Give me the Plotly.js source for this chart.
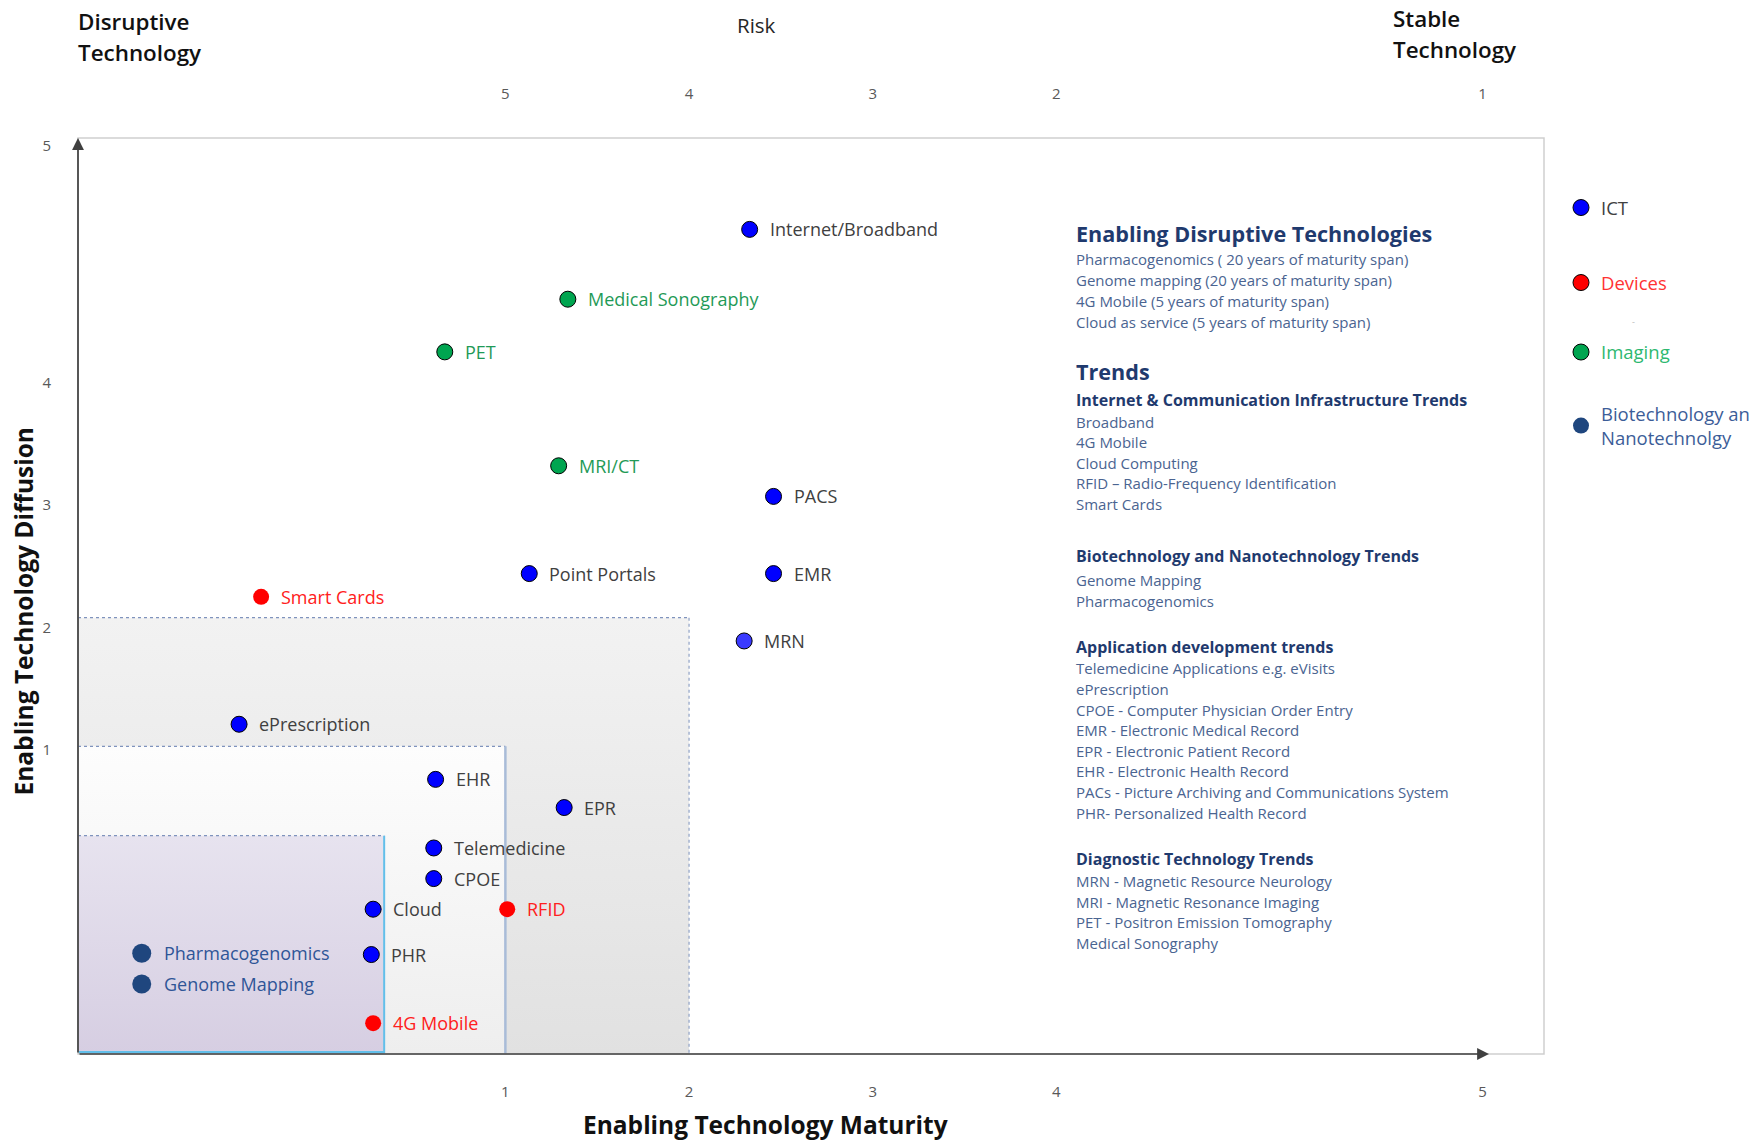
<!DOCTYPE html>
<html>
<head>
<meta charset="utf-8">
<script src="https://cdn.plot.ly/plotly-3.0.1.min.js"></script>
<style>
  html, body { margin: 0; padding: 0; background: #ffffff; }
  #chart { width: 1758px; height: 1141px; }
</style>
</head>
<body>
<div id="chart"></div>
<script>
// ---------------- DATA ----------------
// Enabling Technology Maturity (x) and Enabling Technology Diffusion (y), in axis units
const ictNames      = ['Internet/Broadband', 'PACS', 'Point Portals', 'EMR', 'MRN', 'ePrescription', 'EHR', 'EPR', 'Telemedicine', 'CPOE', 'Cloud', 'PHR'];
const ictMaturity   = [2.33, 2.46, 1.13, 2.46, 2.30, -0.45, 0.62, 1.32, 0.61, 0.61, 0.28, 0.27];
const ictDiffusion  = [5.25, 3.07, 2.44, 2.44, 1.89, 1.21, 0.76, 0.53, 0.20, -0.05, -0.30, -0.67];

const deviceNames     = ['Smart Cards', 'RFID', '4G Mobile'];
const deviceMaturity  = [-0.33, 1.01, 0.28];
const deviceDiffusion = [2.25, -0.30, -1.23];

const imagingNames     = ['Medical Sonography', 'PET', 'MRI/CT'];
const imagingMaturity  = [1.34, 0.67, 1.29];
const imagingDiffusion = [4.68, 4.25, 3.32];

const bioNames     = ['Pharmacogenomics', 'Genome Mapping'];
const bioMaturity  = [-0.98, -0.98];
const bioDiffusion = [-0.66, -0.91];

// shaded zones (upper bounds of maturity / diffusion)
const zoneMaturityMax  = [2.0, 1.0, 0.34];
const zoneDiffusionMax = [2.08, 1.03, 0.30];

// tick labels
const maturityTickVals  = [1, 2, 3, 4, 6.32];
const maturityTickText  = ['1', '2', '3', '4', '5'];
const riskTickText      = ['5', '4', '3', '2', '1'];
const diffusionTickVals = [1, 2, 3, 4, 5.93];
const diffusionTickText = ['1', '2', '3', '4', '5'];

// legend (as shown in the reference)
const legendNames = ['ICT', 'Devices', 'Imaging', 'Biotechnology an<br>Nanotechnolgy'];

// side text block
const disruptiveLines = [
  'Pharmacogenomics ( 20 years of maturity span)',
  'Genome mapping (20 years of maturity span)',
  '4G Mobile (5 years of maturity span)',
  'Cloud as service (5 years of maturity span)'
];
const ictTrendLines = ['Broadband', '4G Mobile', 'Cloud Computing', 'RFID \u2013 Radio-Frequency Identification', 'Smart Cards'];
const bioTrendLines = ['Genome Mapping', 'Pharmacogenomics'];
const appTrendLines = [
  'Telemedicine Applications e.g. eVisits',
  'ePrescription',
  'CPOE - Computer Physician Order Entry',
  'EMR - Electronic Medical Record',
  'EPR - Electronic Patient Record',
  'EHR - Electronic Health Record',
  'PACs - Picture Archiving and Communications System',
  'PHR- Personalized Health Record'
];
const diagTrendLines = [
  'MRN - Magnetic Resource Neurology',
  'MRI - Magnetic Resonance Imaging',
  'PET - Positron Emission Tomography',
  'Medical Sonography'
];

// ---------------- LAYOUT HELPERS ----------------
const W = 1758, H = 1141;
const M = { l: 78, r: 214, t: 138, b: 87 };
const PW = W - M.l - M.r, PH = H - M.t - M.b;
const pxX = x => (x - M.l) / PW;
const pxY = y => (H - M.b - y) / PH;
const xr = [-1.327, 6.655];
const yr = [-1.482, 5.996];

const FONT = 'Open Sans, Noto Sans, DejaVu Sans, sans-serif';
const traces = [];

// zones
const zoneStyles = [
  { c0: '#e1e1e1', c1: '#f2f2f2' },
  { c0: '#eeeeee', c1: '#fdfdfd' },
  { c0: '#d6cee2', c1: '#e7e3ef' }
];
zoneMaturityMax.forEach((xm, i) => {
  const ym = zoneDiffusionMax[i];
  traces.push({
    type: 'scatter', mode: 'lines',
    x: [xr[0], xm, xm, xr[0], xr[0]],
    y: [yr[0], yr[0], ym, ym, yr[0]],
    fill: 'toself',
    fillgradient: { type: 'vertical', colorscale: [[0, zoneStyles[i].c0], [1, zoneStyles[i].c1]] },
    line: { width: 0 },
    hoverinfo: 'skip', showlegend: false
  });
});
// zone borders
zoneMaturityMax.forEach((xm, i) => {
  const ym = zoneDiffusionMax[i];
  traces.push({
    type: 'scatter', mode: 'lines', x: [xr[0], xm], y: [ym, ym],
    line: { color: '#7f93bd', width: 1.2, dash: 'dot' }, hoverinfo: 'skip', showlegend: false
  });
  const rightStyle = [
    { color: '#8fa2c6', width: 1.2, dash: 'dot' },
    { color: '#a9bcd8', width: 2.5, dash: 'solid' },
    { color: '#62bfea', width: 2, dash: 'solid' }
  ][i];
  traces.push({
    type: 'scatter', mode: 'lines', x: [xm, xm], y: [ym, yr[0]],
    line: rightStyle, hoverinfo: 'skip', showlegend: false
  });
});
traces.push({
  type: 'scatter', mode: 'lines', x: [xr[0], zoneMaturityMax[2]], y: [yr[0] + 0.012, yr[0] + 0.012],
  line: { color: '#62bfea', width: 3 }, hoverinfo: 'skip', showlegend: false
});

// points
const groups = [
  { names: ictNames, x: ictMaturity, y: ictDiffusion,
    color: ictNames.map(n => n === 'MRN' ? '#3a3aff' : '#0000ff'),
    size: 16, line: { color: '#000000', width: 1 }, text: '#404040' },
  { names: deviceNames, x: deviceMaturity, y: deviceDiffusion,
    color: '#ff0000', size: 16, line: { width: 0 }, text: '#ff2020' },
  { names: imagingNames, x: imagingMaturity, y: imagingDiffusion,
    color: '#00a550', size: 16, line: { color: '#000000', width: 1 }, text: '#1f9a57' },
  { names: bioNames, x: bioMaturity, y: bioDiffusion,
    color: '#1f467e', size: 19, line: { width: 0 }, text: '#2f5597' }
];
const annotations = [];
groups.forEach(g => {
  traces.push({
    type: 'scatter', mode: 'markers', x: g.x, y: g.y, text: g.names,
    marker: { color: g.color, size: g.size, line: g.line },
    hoverinfo: 'text', showlegend: false
  });
  g.names.forEach((n, i) => {
    annotations.push({
      xref: 'x', yref: 'y', x: g.x[i], y: g.y[i], text: n, showarrow: false,
      xanchor: 'left', yanchor: 'middle', xshift: g.size === 19 ? 20 : 18,
      font: { family: FONT, size: 18, color: g.text }
    });
  });
});

// legend-only traces, one legend box per item
const legendStyles = [
  { color: '#0000ff', line: { color: '#000', width: 1 }, text: '#404040' },
  { color: '#ff0000', line: { color: '#000', width: 1 }, text: '#ff3333' },
  { color: '#00a550', line: { color: '#000', width: 1 }, text: '#2db870' },
  { color: '#1f467e', line: { width: 0 }, text: '#3c5d98' }
];
const legendIds = ['legend', 'legend2', 'legend3', 'legend4'];
const legendTops = [189, 264, 333.5, 395];
legendNames.forEach((n, i) => {
  traces.push({
    type: 'scatter', mode: 'markers', x: [null], y: [null],
    name: '<span style="color:' + legendStyles[i].text + '">' + n + '</span>',
    legend: legendIds[i],
    marker: { color: legendStyles[i].color, size: 16, line: legendStyles[i].line },
    hoverinfo: 'skip'
  });
});
// top (risk) axis carrier
traces.push({ type: 'scatter', mode: 'markers', x: [null], y: [null], xaxis: 'x2', yaxis: 'y', showlegend: false, hoverinfo: 'skip' });

// axis arrows
annotations.push({
  xref: 'paper', yref: 'paper', x: 0, y: 1, ax: 0, ay: PH, axref: 'pixel', ayref: 'pixel',
  text: '', showarrow: true, arrowhead: 2, arrowsize: 1.4, arrowwidth: 1.7, arrowcolor: '#404040', standoff: 0
});
annotations.push({
  xref: 'paper', yref: 'paper', x: pxX(1489), y: 0, ax: -(1489 - M.l), ay: 0,
  text: '', showarrow: true, arrowhead: 2, arrowsize: 1.4, arrowwidth: 1.7, arrowcolor: '#404040', standoff: 0
});

// titles and corner labels
function paperText(text, x, y, opts) {
  annotations.push(Object.assign({
    xref: 'paper', yref: 'paper', x: pxX(x), y: pxY(y), text: text, showarrow: false,
    xanchor: 'left', yanchor: 'middle'
  }, opts));
}
const cornerFont = { family: FONT, size: 22.4, weight: 600, color: '#111111' };
paperText('Disruptive', 75.5, 21, { font: cornerFont });
paperText('Technology', 75.5, 52.5, { font: cornerFont });
paperText('Stable', 1390.5, 18.5, { font: cornerFont });
paperText('Technology', 1390.5, 49.5, { font: cornerFont });
paperText('Risk', 756, 25, { xanchor: 'center', font: { family: FONT, size: 20.5, color: '#262626' } });
paperText('Enabling Technology Maturity', 765, 1124.5, { xanchor: 'center', font: { family: FONT, size: 24.5, weight: 700, color: '#111111' } });
paperText('Enabling Technology Diffusion', 22.5, 612, { xanchor: 'center', textangle: -90, font: { family: FONT, size: 24.5, weight: 700, color: '#111111' } });
paperText('-', 1633, 321, { xanchor: 'center', font: { family: FONT, size: 9, color: '#bbbbbb' } });

// side text block
const H1 = { family: FONT, size: 21.6, weight: 700, color: '#1f3a6e' };
const H2 = { family: FONT, size: 16, weight: 700, color: '#1f3a6e' };
const BODY = { family: FONT, size: 15, color: '#4a6491' };
const TX = 1073.5;
let ty = 233;
paperText('Enabling Disruptive Technologies', TX, ty, { font: H1 });
ty += 26;
disruptiveLines.forEach((t, i) => { paperText(t, TX, ty, { font: BODY }); if (i < disruptiveLines.length - 1) ty += 21.1; });
ty += 49.5;
paperText('Trends', TX, ty, { font: H1 });
ty += 28;
const sections = [
  ['Internet &amp; Communication Infrastructure Trends', ictTrendLines, 0, 21.8],
  ['Biotechnology and Nanotechnology Trends', bioTrendLines, 52.4, 23.6],
  ['Application development trends', appTrendLines, 46.2, 21.5],
  ['Diagnostic Technology Trends', diagTrendLines, 46.2, 22.4]
];
sections.forEach(([head, lines, gap, headToBody]) => {
  ty += gap;
  paperText(head, TX, ty, { font: H2 });
  ty += headToBody;
  lines.forEach((t, i) => { paperText(t, TX, ty, { font: BODY }); if (i < lines.length - 1) ty += 20.6; });
});

const tickFont = { family: FONT, size: 15, color: '#595959' };
const legendFont = { family: FONT, size: 18.5, color: '#404040' };
const layout = {
  width: W, height: H,
  margin: Object.assign({ autoexpand: false, pad: 0 }, M),
  paper_bgcolor: '#ffffff', plot_bgcolor: '#ffffff',
  font: { family: FONT },
  showlegend: true,
  xaxis: {
    range: xr, tickvals: maturityTickVals, ticktext: maturityTickText,
    showgrid: false, zeroline: false, showline: false, ticks: '', ticklabelstandoff: 27,
    tickfont: tickFont, fixedrange: true
  },
  xaxis2: {
    range: xr, tickvals: maturityTickVals, ticktext: riskTickText, overlaying: 'x', side: 'top', anchor: 'y',
    showgrid: false, zeroline: false, showline: false, ticks: '', ticklabelstandoff: 35,
    tickfont: tickFont, fixedrange: true
  },
  yaxis: {
    range: yr, tickvals: diffusionTickVals, ticktext: diffusionTickText,
    showgrid: false, zeroline: false, showline: false, ticks: '', ticklabelstandoff: 26,
    tickfont: tickFont, fixedrange: true
  },
  shapes: [{
    type: 'rect', xref: 'paper', yref: 'paper', x0: 0, x1: 1, y0: 0, y1: 1,
    line: { color: '#cfcfcf', width: 1.5 }, fillcolor: 'rgba(0,0,0,0)', layer: 'above'
  }],
  annotations: annotations
};
legendIds.forEach((id, i) => {
  layout[id] = {
    x: pxX(1561), y: pxY(legendTops[i]), xanchor: 'left', yanchor: 'top',
    bgcolor: 'rgba(0,0,0,0)', font: legendFont, itemsizing: 'trace', valign: 'middle'
  };
});

Plotly.newPlot('chart', traces, layout, { displayModeBar: false, staticPlot: true });
</script>
</body>
</html>
